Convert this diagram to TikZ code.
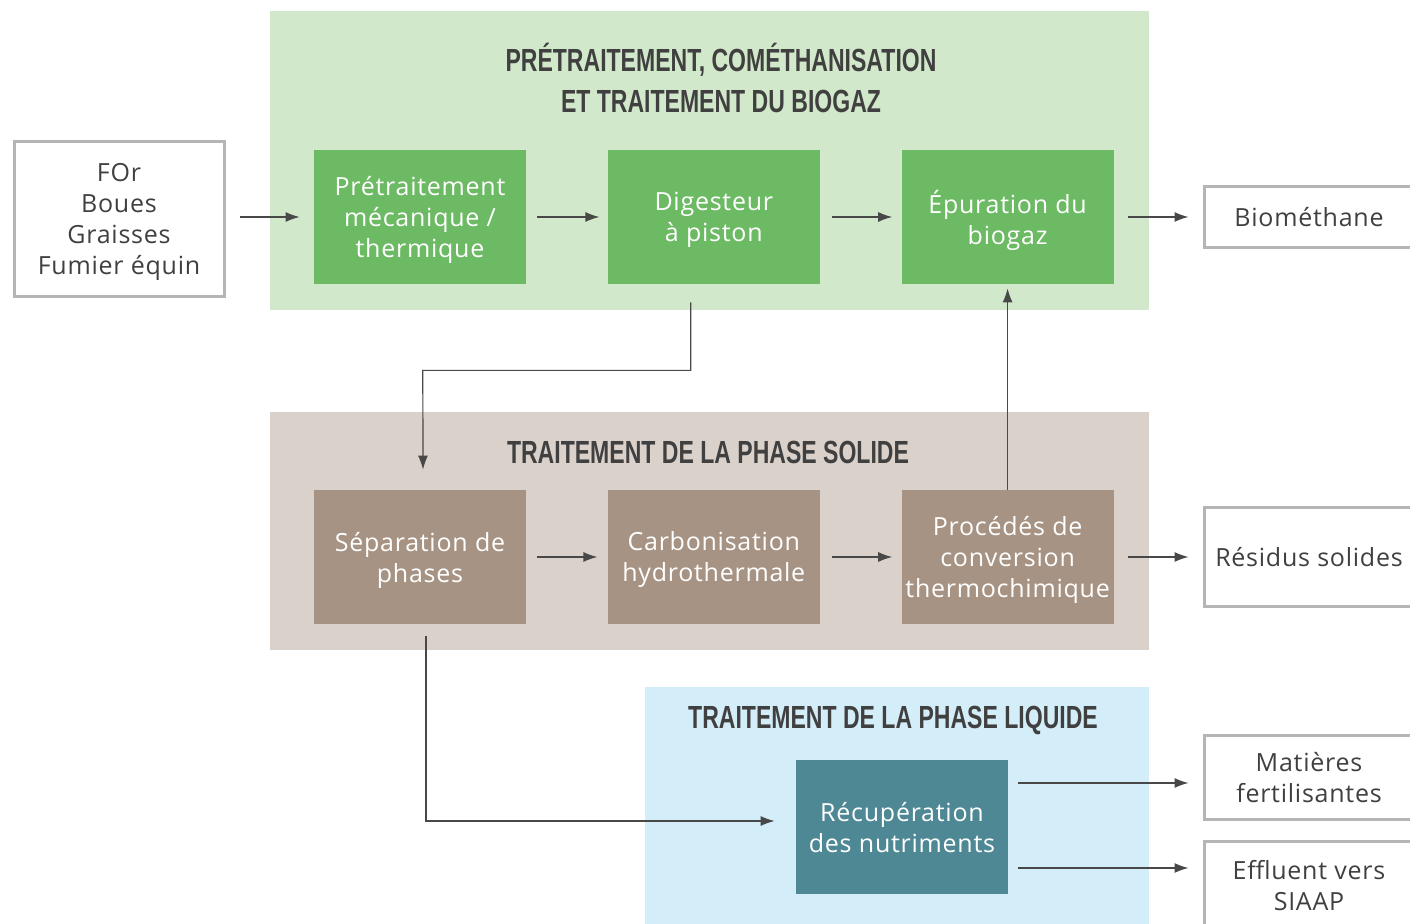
\documentclass[tikz,border=0pt]{standalone}
\usepackage{fontspec}
\setmainfont[LetterSpace=3]{Open Sans}
\newfontfamily\titlefont[FakeStretch=0.72]{Liberation Sans}
\usepackage{xcolor}
\usetikzlibrary{arrows.meta, positioning, calc}
\definecolor{Panel_Green}{HTML}{D2E8CB}
\definecolor{Box_Green}{HTML}{6DBA64}
\definecolor{Panel_Brown}{HTML}{DAD1CB}
\definecolor{Box_Brown}{HTML}{A69383}
\definecolor{Panel_Blue}{HTML}{D3EDF9}
\definecolor{Box_Teal}{HTML}{4E8894}
\definecolor{Text_Gray}{HTML}{404040}
\definecolor{Border_Gray}{HTML}{B5B5B5}
\definecolor{Arrow_Gray}{HTML}{484848}

\begin{document}
\begin{tikzpicture}[
    x=0.5pt, y=-0.5pt,
    node distance=40.5pt,
    panel/.style={rectangle, inner sep=0pt},
    heading/.style={align=center, text=Text_Gray,
                    font=\titlefont\bfseries\fontsize{16}{20.5}\selectfont},
    procbox/.style={rectangle, minimum width=106pt, minimum height=67pt,
                    inner xsep=0pt, text depth=-2pt, align=center, text=white,
                    font=\fontsize{12.5}{15.5}\selectfont},
    outbox/.style={rectangle, draw=Border_Gray, line width=1.5pt, fill=white,
                   minimum width=105pt, inner xsep=0pt, text depth=-2pt, align=center,
                   text=Text_Gray, font=\fontsize{12.5}{15.5}\selectfont},
    arrow/.style={-{Latex[length=7pt, width=5pt]}, line width=0.6pt, Arrow_Gray}
]
\useasboundingbox (0,0) rectangle (1410,924);

% panels
\node[panel, fill=Panel_Green, minimum width=439.5pt, minimum height=149.5pt] (pgreen) at (709.5,160.5) {};
\node[panel, fill=Panel_Brown, minimum width=439.5pt, minimum height=119pt] (pbrown) at (709.5,531) {};
\node[panel, fill=Panel_Blue, minimum width=252pt, minimum height=121.5pt] (pblue) at (897,808.5) {};

\node[heading] (tgreen) at (721,78) {PRÉTRAITEMENT, COMÉTHANISATION\\ET TRAITEMENT DU BIOGAZ};
\node[heading] (tbrown) at (708,452) {TRAITEMENT DE LA PHASE SOLIDE};
\node[heading] (tblue) at (893,720) {TRAITEMENT DE LA PHASE LIQUIDE};

% entree
\node[outbox, minimum height=77.5pt] (input) at (119,219) {FOr\\Boues\\Graisses\\Fumier équin};

% biogaz
\node[procbox, fill=Box_Green] (pretr) at (420,217) {Prétraitement\\mécanique /\\thermique};
\node[procbox, fill=Box_Green, right=of pretr] (digest) {Digesteur\\à piston};
\node[procbox, fill=Box_Green, right=of digest] (epur) {Épuration du\\biogaz};

% phase solide
\node[procbox, fill=Box_Brown] (separ) at (420,557) {Séparation de\\phases};
\node[procbox, fill=Box_Brown, right=of separ] (carbo) {Carbonisation\\hydrothermale};
\node[procbox, fill=Box_Brown, right=of carbo] (thermo) {Procédés de\\conversion\\thermochimique};

% phase liquide
\node[procbox, fill=Box_Teal] (recup) at (902,827) {Récupération\\des nutriments};

% sorties
\node[outbox, minimum height=30.5pt] (biometh) at (1309,217) {Biométhane};
\node[outbox, minimum height=49.5pt] (residus) at (1309,557) {Résidus solides};
\node[outbox, minimum height=42pt] (fertil) at (1309,777.5) {Matières\\fertilisantes};
\node[outbox, minimum height=43.5pt] (effl) at (1309,885) {Effluent vers\\SIAAP};

\coordinate (recup-up) at ([yshift=22pt]recup.east);
\coordinate (recup-down) at ([yshift=-20.5pt]recup.east);

% fleches
\draw[arrow, shorten <=7pt, shorten >=7pt] (input.east |- pretr.west) -- (pretr.west);
\draw[arrow, shorten <=5.5pt, shorten >=4pt] (pretr) -- (digest);
\draw[arrow, shorten <=6pt, shorten >=4.5pt] (digest) -- (epur);
\draw[arrow, shorten <=7pt, shorten >=7pt] (epur) -- (biometh.west |- epur.east);

\draw[arrow, shorten <=5.5pt, shorten >=5pt] (separ) -- (carbo);
\draw[arrow, shorten <=6pt, shorten >=4.5pt] (carbo) -- (thermo);
\draw[arrow, shorten <=7pt, shorten >=7pt] (thermo) -- (residus.west |- thermo.east);
\draw[arrow, shorten >=2pt] (thermo) -- (epur);

\draw[arrow] ([xshift=-11.5pt,yshift=-9pt]digest.south) |- ++(-134pt,-34pt) -- ([xshift=1.5pt,yshift=10pt]separ.north);
\draw[arrow] ([xshift=3pt,yshift=-6pt]separ.south) |- ([xshift=-10.5pt,yshift=3pt]recup.west);

\draw[arrow, shorten <=5pt, shorten >=7pt] (recup-up) -- (recup-up -| fertil.west);
\draw[arrow, shorten <=5pt, shorten >=7pt] (recup-down) -- (recup-down -| effl.west);

\end{tikzpicture}
\end{document}
